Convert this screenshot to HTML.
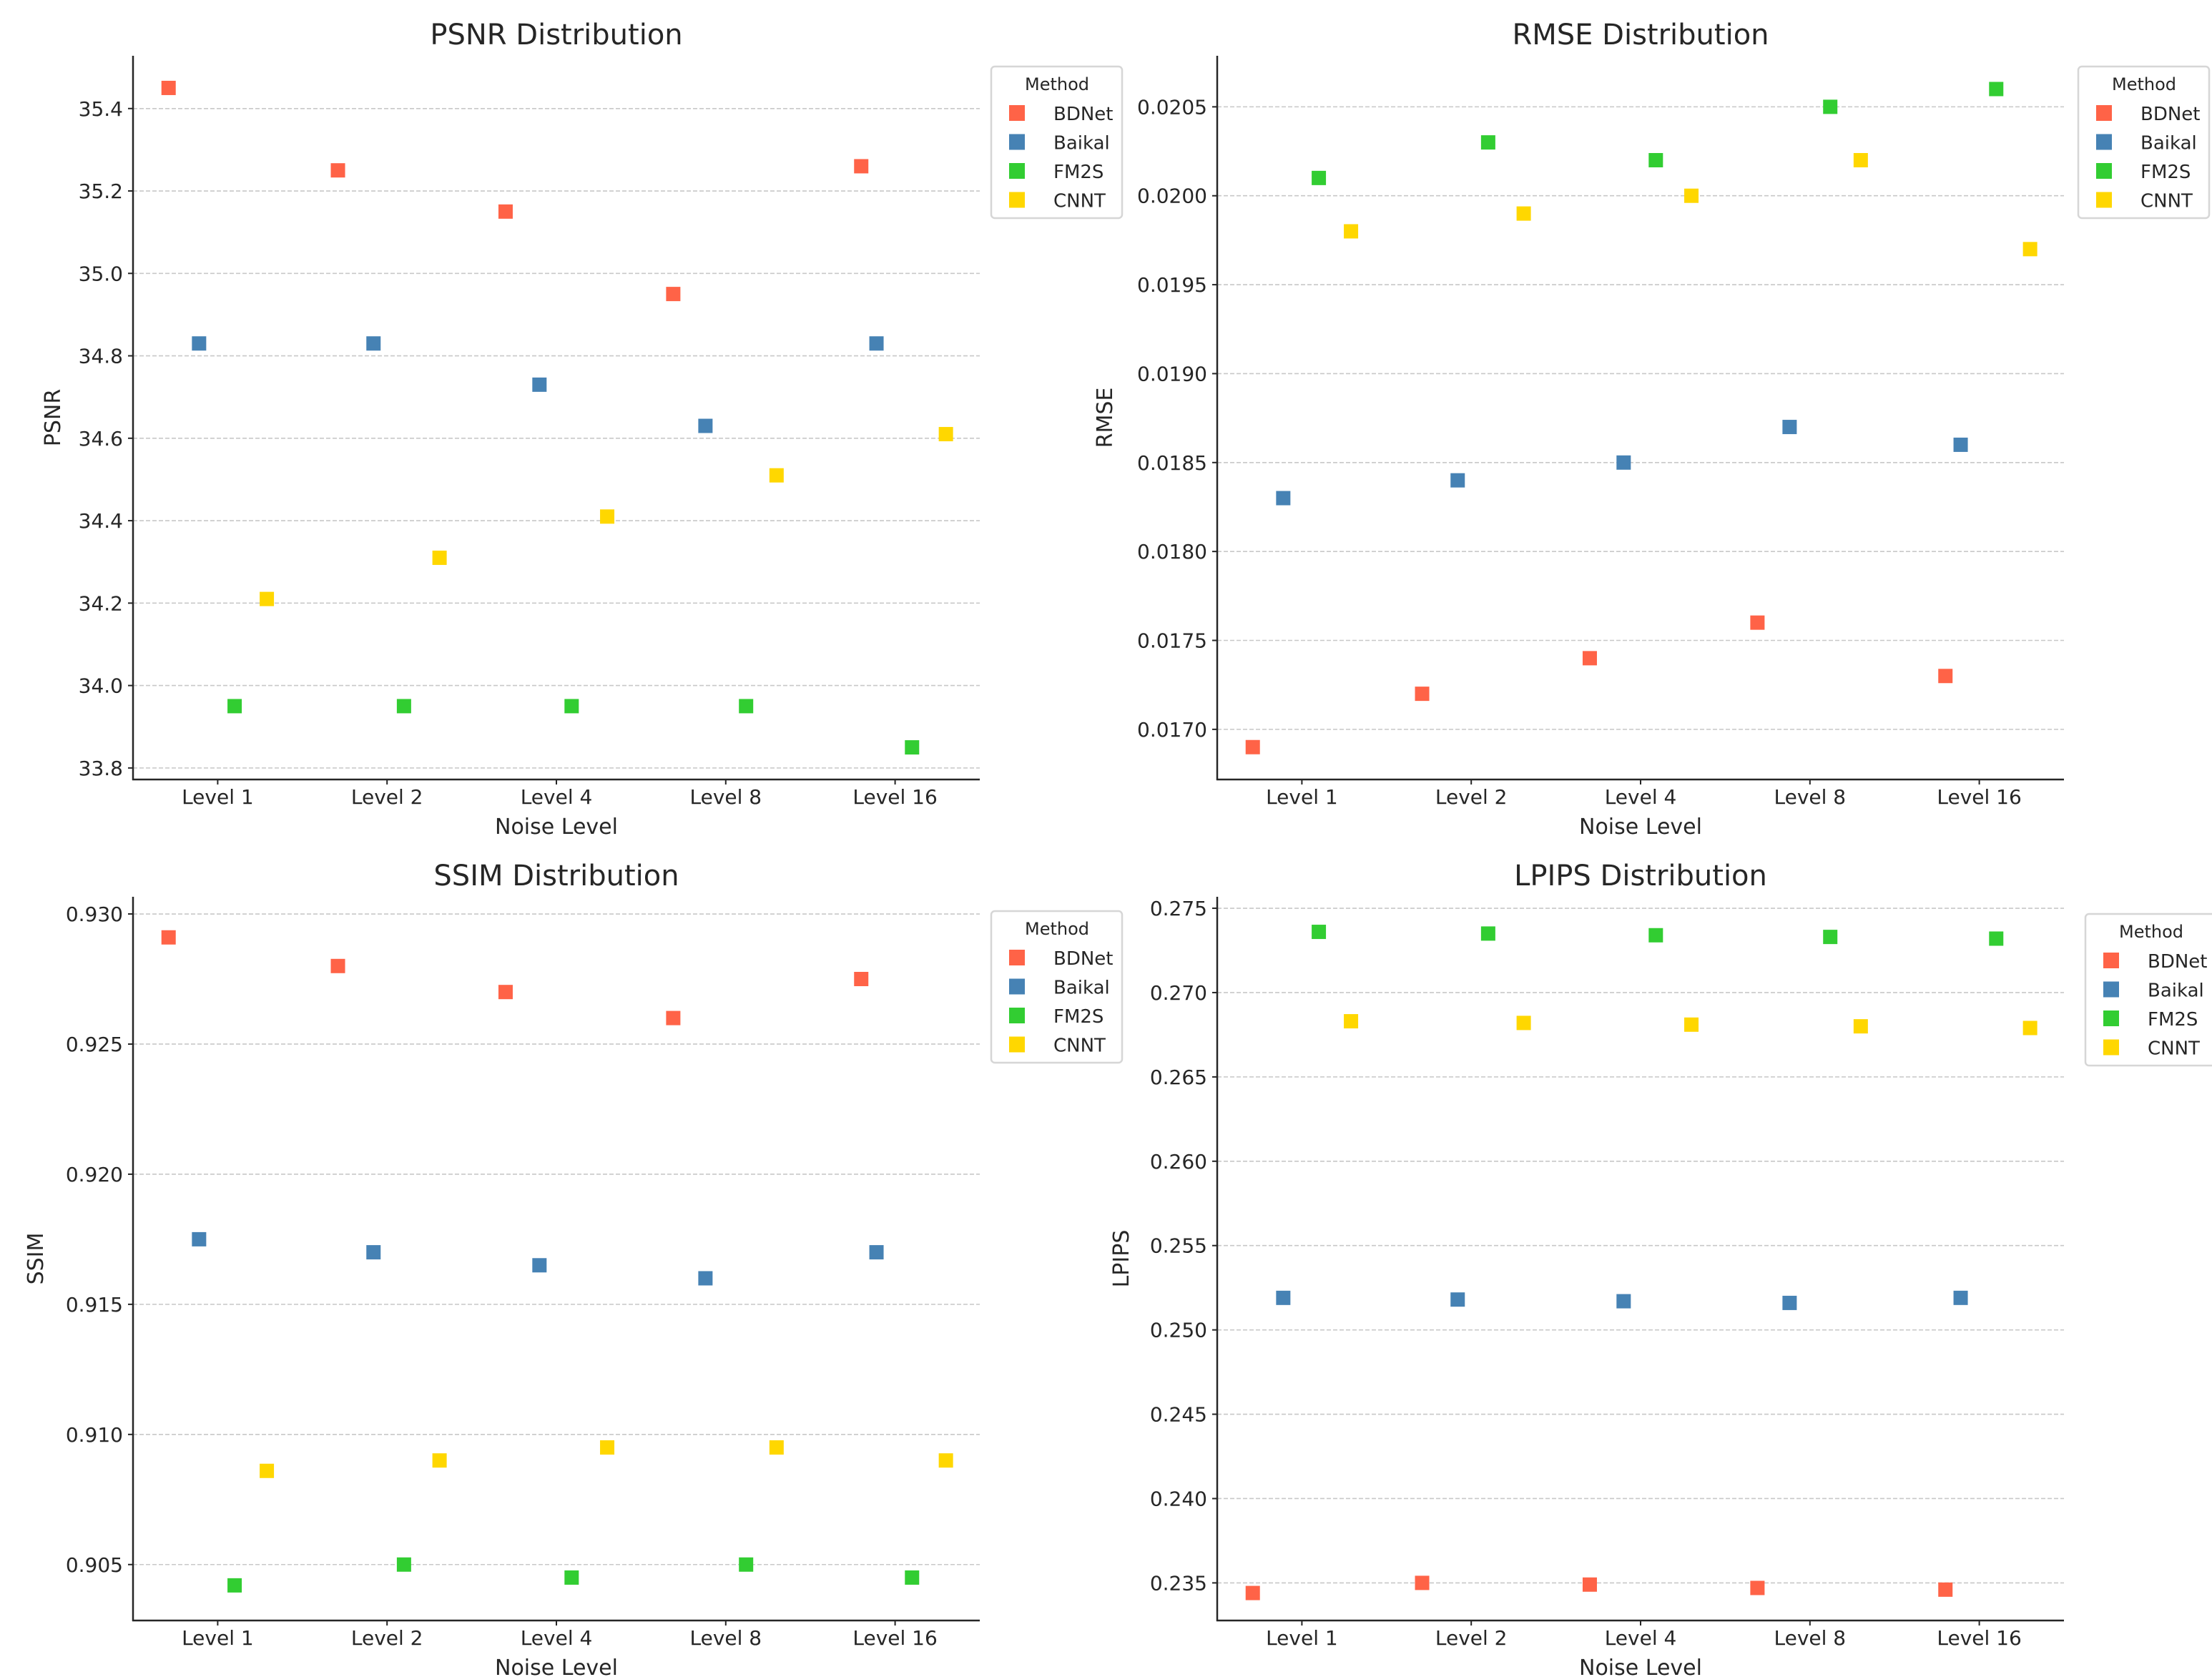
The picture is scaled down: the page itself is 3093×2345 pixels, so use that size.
<!DOCTYPE html>
<html><head><meta charset="utf-8"><style>
html,body{margin:0;padding:0;background:#fff}
svg{display:block}
text{font-family:"DejaVu Sans","Liberation Sans",sans-serif;fill:#262626}
</style></head><body>
<svg id="chart" width="3093" height="2345" viewBox="0 0 3093 2345" xmlns="http://www.w3.org/2000/svg"></svg>
<script>
const categories = ["Level 1","Level 2","Level 4","Level 8","Level 16"];
const methods = ["BDNet","Baikal","FM2S","CNNT"];
const colors = ["#FF6347","#4682B4","#32CD32","#FFD700"];

const psnrBDNet = [35.45,35.25,35.15,34.95,35.26];
const psnrBaikal = [34.83,34.83,34.73,34.63,34.83];
const psnrFM2S = [33.95,33.95,33.95,33.95,33.85];
const psnrCNNT = [34.21,34.31,34.41,34.51,34.61];
const psnrTicks = [33.8,34.0,34.2,34.4,34.6,34.8,35.0,35.2,35.4];

const rmseBDNet = [0.0169,0.0172,0.0174,0.0176,0.0173];
const rmseBaikal = [0.0183,0.0184,0.0185,0.0187,0.0186];
const rmseFM2S = [0.0201,0.0203,0.0202,0.0205,0.0206];
const rmseCNNT = [0.0198,0.0199,0.0200,0.0202,0.0197];
const rmseTicks = [0.0170,0.0175,0.0180,0.0185,0.0190,0.0195,0.0200,0.0205];

const ssimBDNet = [0.9291,0.9280,0.9270,0.9260,0.9275];
const ssimBaikal = [0.9175,0.9170,0.9165,0.9160,0.9170];
const ssimFM2S = [0.9042,0.9050,0.9045,0.9050,0.9045];
const ssimCNNT = [0.9086,0.9090,0.9095,0.9095,0.9090];
const ssimTicks = [0.905,0.910,0.915,0.920,0.925,0.930];

const lpipsBDNet = [0.2344,0.2350,0.2349,0.2347,0.2346];
const lpipsBaikal = [0.2519,0.2518,0.2517,0.2516,0.2519];
const lpipsFM2S = [0.2736,0.2735,0.2734,0.2733,0.2732];
const lpipsCNNT = [0.2683,0.2682,0.2681,0.2680,0.2679];
const lpipsTicks = [0.235,0.240,0.245,0.250,0.255,0.260,0.265,0.270,0.275];

// strip-plot jitter (category units) per method
const jitterBDNet = [-0.29,-0.29,-0.30,-0.31,-0.20];
const jitterBaikal = [-0.11,-0.08,-0.10,-0.12,-0.11];
const jitterFM2S = [0.10,0.10,0.09,0.12,0.10];
const jitterCNNT = [0.29,0.31,0.30,0.30,0.30];
const jitters = [jitterBDNet,jitterBaikal,jitterFM2S,jitterCNNT];

const NS = "http://www.w3.org/2000/svg";
const svg = document.getElementById("chart");
function mk(tag, attrs, parent, txt){
  const e = document.createElementNS(NS, tag);
  for (const k in attrs) e.setAttribute(k, attrs[k]);
  if (txt !== undefined) e.textContent = txt;
  (parent||svg).appendChild(e);
  return e;
}

function panel(p){
  const g = mk("g", {});
  
  
  const L=p.x0, R=p.x1, T=p.y0, B=p.y1;
  const yS = v => B - (v - p.ymin)/(p.ymax - p.ymin)*(B - T);
  const step = (R - L)/ (categories.length);
  const xS = (i) => L + step*(i+0.5);
  p.ticks.forEach(t=>{
    const y = yS(t);
    const gl = mk("line",{x1:L,x2:R,y1:y,y2:y,stroke:"#c8c8c8","stroke-width":1.6,"stroke-dasharray":"6,3"},g);
    
    
    mk("line",{x1:L-7,x2:L,y1:y,y2:y,stroke:"#262626","stroke-width":2},g);
    const tl = mk("text",{x:L-14,y:y+10,"text-anchor":"end","font-size":28},g,t.toFixed(p.dec));
    
    
  });
  categories.forEach((c,i)=>{
    const x = xS(i);
    mk("line",{x1:x,x2:x,y1:B,y2:B+7,stroke:"#262626","stroke-width":2},g);
    const tl = mk("text",{x:x,y:B+34,"text-anchor":"middle","font-size":28},g,c);
    
    
  });
  mk("line",{x1:L,x2:L,y1:T,y2:B+1,stroke:"#262626","stroke-width":2.5},g);
  mk("line",{x1:L-1,x2:R,y1:B,y2:B,stroke:"#262626","stroke-width":2.5},g);
  p.series.forEach((arr,m)=>{
    arr.forEach((v,i)=>{
      const cx = xS(i) + jitters[m][i]*step, cy = yS(v);
      const r = mk("rect",{x:cx-10,y:cy-10,width:20,height:20,fill:colors[m]},g);
      
      
    });
  });
  const tt = mk("text",{x:(L+R)/2,y:T-16,"text-anchor":"middle","font-size":40},g,p.title);
  
  
  const xl = mk("text",{x:(L+R)/2,y:B+76,"text-anchor":"middle","font-size":30},g,"Noise Level");
  
  
  const ylx = p.ylx, yly=(T+B)/2;
  const yl = mk("text",{x:ylx,y:yly,"text-anchor":"middle","font-size":30,transform:`rotate(-90 ${ylx} ${yly})`},g,p.ylabel);
  
  
  const lg = mk("g",{},g);
  
  
  const lx=p.lx, ly=p.ly;
  mk("rect",{x:lx,y:ly,width:183,height:212,rx:5,fill:"#fff",stroke:"#d6d6d6","stroke-width":2.5},lg);
  mk("text",{x:lx+92,y:ly+33,"text-anchor":"middle","font-size":24},lg,"Method");
  methods.forEach((m,k)=>{
    const cy = ly+65+k*40.5;
    const e = mk("g",{},lg);
    
    
    mk("rect",{x:lx+25,y:cy-11,width:22,height:22,fill:colors[k]},e);
    mk("text",{x:lx+87,y:cy+10,"font-size":26},e,methods[k]);
  });
}

panel({key:"psnr",title:"PSNR Distribution",ylabel:"PSNR",x0:186,x1:1370,y0:78,y1:1090,ymin:33.772,ymax:35.528,
  ticks:psnrTicks,dec:1,series:[psnrBDNet,psnrBaikal,psnrFM2S,psnrCNNT],ylx:84,lx:1386,ly:93});
panel({key:"rmse",title:"RMSE Distribution",ylabel:"RMSE",x0:1702,x1:2886,y0:78,y1:1090,ymin:0.016718,ymax:0.020787,
  ticks:rmseTicks,dec:4,series:[rmseBDNet,rmseBaikal,rmseFM2S,rmseCNNT],ylx:1555,lx:2906,ly:93});
panel({key:"ssim",title:"SSIM Distribution",ylabel:"SSIM",x0:186,x1:1370,y0:1254,y1:2266,ymin:0.90285,ymax:0.93066,
  ticks:ssimTicks,dec:3,series:[ssimBDNet,ssimBaikal,ssimFM2S,ssimCNNT],ylx:60,lx:1386,ly:1274});
panel({key:"lpips",title:"LPIPS Distribution",ylabel:"LPIPS",x0:1702,x1:2886,y0:1254,y1:2266,ymin:0.23277,ymax:0.27568,
  ticks:lpipsTicks,dec:3,series:[lpipsBDNet,lpipsBaikal,lpipsFM2S,lpipsCNNT],ylx:1578,lx:2916,ly:1278});
</script>
</body></html>
